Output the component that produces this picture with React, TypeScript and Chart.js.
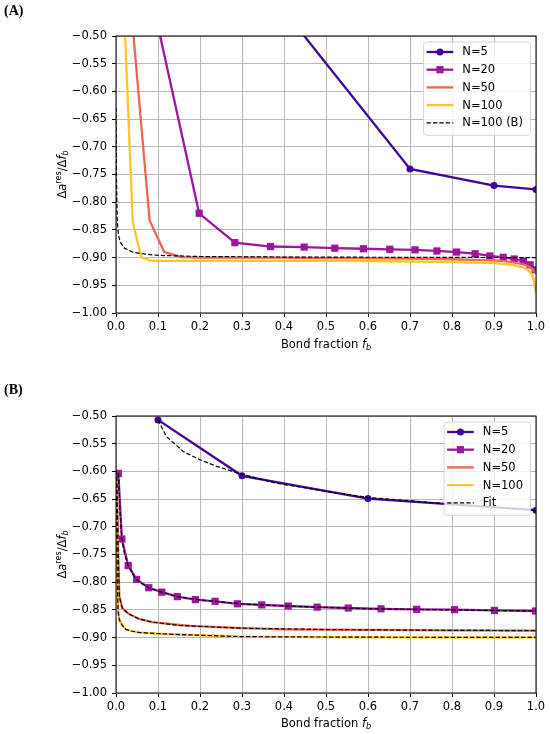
import { useEffect, useRef } from "react"
import { Chart, registerables } from "chart.js"

Chart.register(...registerables)

// axis ticks (shared by both panels)
const xTicks = [0, 0.1, 0.2, 0.3, 0.4, 0.5, 0.6, 0.7, 0.8, 0.9, 1.0]
const xTickLabels = ["0.0", "0.1", "0.2", "0.3", "0.4", "0.5", "0.6", "0.7", "0.8", "0.9", "1.0"]
const yTicks = [-1.0, -0.95, -0.9, -0.85, -0.8, -0.75, -0.7, -0.65, -0.6, -0.55, -0.5]
const yTickLabels = ["−1.00", "−0.95", "−0.90", "−0.85", "−0.80", "−0.75", "−0.70", "−0.65", "−0.60", "−0.55", "−0.50"]

// panel A
const aN5X = [0.4, 0.7, 0.9, 1.0]
const aN5Y = [-0.454, -0.74, -0.77, -0.777]
const aN20X = [0.099, 0.198, 0.283, 0.368, 0.448, 0.521, 0.589, 0.652, 0.712, 0.764, 0.811, 0.855, 0.89, 0.922, 0.948, 0.97, 0.986, 0.998]
const aN20Y = [-0.479, -0.82, -0.873, -0.88, -0.881, -0.883, -0.884, -0.885, -0.886, -0.888, -0.89, -0.893, -0.897, -0.8995, -0.9025, -0.907, -0.913, -0.922]
const aN50X = [0.04, 0.08, 0.115, 0.156, 0.2, 0.3, 0.4, 0.5, 0.6, 0.7, 0.8, 0.85, 0.9, 0.93, 0.95, 0.97, 0.98, 0.99, 0.995, 1.0]
const aN50Y = [-0.485, -0.833, -0.89, -0.899, -0.9, -0.9, -0.9, -0.901, -0.901, -0.902, -0.903, -0.904, -0.905, -0.907, -0.909, -0.912, -0.915, -0.92, -0.924, -0.928]
const aN100X = [0.02, 0.04, 0.06, 0.08, 0.1, 0.2, 0.3, 0.5, 0.7, 0.8, 0.85, 0.9, 0.93, 0.95, 0.97, 0.98, 0.99, 0.995, 1.0]
const aN100Y = [-0.47, -0.837, -0.899, -0.905, -0.906, -0.906, -0.906, -0.906, -0.907, -0.908, -0.909, -0.91, -0.912, -0.914, -0.918, -0.922, -0.93, -0.94, -0.964]
const aN100BX = [0, 0.001, 0.003, 0.006, 0.01, 0.02, 0.04, 0.06, 0.1, 0.2, 0.4, 0.7, 1.0]
const aN100BY = [-0.63, -0.75, -0.835, -0.86, -0.872, -0.883, -0.89, -0.893, -0.896, -0.898, -0.899, -0.8995, -0.9]

// panel B
const bN5X = [0.1, 0.3, 0.6, 1.0]
const bN5Y = [-0.507, -0.608, -0.649, -0.67]
const bN20X = [0.0056, 0.014, 0.029, 0.049, 0.078, 0.109, 0.146, 0.189, 0.236, 0.289, 0.347, 0.41, 0.479, 0.553, 0.631, 0.716, 0.806, 0.901, 0.999]
const bN20Y = [-0.6035, -0.722, -0.77, -0.795, -0.81, -0.818, -0.826, -0.8315, -0.8345, -0.839, -0.841, -0.843, -0.845, -0.8466, -0.848, -0.849, -0.8496, -0.851, -0.852]
const bN50X = [0.002, 0.005, 0.008, 0.015, 0.03, 0.054, 0.086, 0.11, 0.176, 0.3, 0.4, 0.6, 0.8, 1.0]
const bN50Y = [-0.61, -0.74, -0.826, -0.847, -0.857, -0.866, -0.872, -0.874, -0.879, -0.883, -0.885, -0.886, -0.887, -0.8875]
const bN100X = [0.001, 0.003, 0.005, 0.008, 0.015, 0.023, 0.035, 0.054, 0.08, 0.11, 0.18, 0.3, 0.5, 0.7, 1.0]
const bN100Y = [-0.61, -0.8, -0.851, -0.868, -0.878, -0.885, -0.888, -0.8905, -0.892, -0.8935, -0.895, -0.8983, -0.899, -0.8995, -0.8996]
const bFit5X = [0.1, 0.12, 0.16, 0.2, 0.24, 0.3, 0.38, 0.5, 0.6, 0.78, 1.0]
const bFit5Y = [-0.507, -0.537, -0.564, -0.579, -0.591, -0.605, -0.621, -0.636, -0.647, -0.658, -0.67]
const bFit20X = [0.0056, 0.01, 0.014, 0.02, 0.029, 0.04, 0.049, 0.06, 0.078, 0.1, 0.146, 0.2, 0.3, 0.4, 0.6, 0.8, 1.0]
const bFit20Y = [-0.6035, -0.68, -0.722, -0.748, -0.77, -0.786, -0.795, -0.802, -0.81, -0.816, -0.826, -0.832, -0.839, -0.843, -0.848, -0.85, -0.852]
const bFit50X = [0.002, 0.005, 0.008, 0.015, 0.03, 0.054, 0.086, 0.15, 0.3, 0.5, 0.7, 1.0]
const bFit50Y = [-0.61, -0.74, -0.826, -0.847, -0.857, -0.866, -0.872, -0.878, -0.883, -0.8855, -0.8865, -0.8875]
const bFit100X = [0.001, 0.003, 0.005, 0.008, 0.015, 0.023, 0.035, 0.054, 0.08, 0.15, 0.3, 0.6, 1.0]
const bFit100Y = [-0.61, -0.8, -0.851, -0.868, -0.878, -0.885, -0.888, -0.8905, -0.892, -0.8945, -0.8983, -0.8993, -0.8996]

const C5 = "#40049c"
const C20 = "#9c179e"
const C50 = "#ec6650"
const C100 = "#fdc527"
const FS = 11.5
const FONT = "'DejaVu Sans', sans-serif"

type Series = {
  label: string
  xs: number[]
  ys: number[]
  color: string
  width: number
  dash?: number[]
  marker?: "circle" | "rect"
  legend?: boolean
}

type Seg = { t: string; italic?: boolean; scale?: number; dy?: number }

function drawRich(ctx: CanvasRenderingContext2D, segs: Seg[], cx: number, y: number) {
  const fontOf = (s: Seg) => `${s.italic ? "italic " : ""}${FS * (s.scale ?? 1)}px ${FONT}`
  let total = 0
  const widths = segs.map((s) => {
    ctx.font = fontOf(s)
    const w = ctx.measureText(s.t).width
    total += w
    return w
  })
  let x = cx - total / 2
  ctx.textAlign = "left"
  ctx.textBaseline = "alphabetic"
  segs.forEach((s, i) => {
    ctx.font = fontOf(s)
    ctx.fillText(s.t, x, y + (s.dy ?? 0))
    x += widths[i]
  })
}

const yTitle: Seg[] = [
  { t: "Δ" },
  { t: "a", italic: true },
  { t: "res", scale: 0.7, dy: -4.6 },
  { t: "/Δ" },
  { t: "f", italic: true },
  { t: "b", italic: true, scale: 0.7, dy: 2 },
]
const xTitle: Seg[] = [
  { t: "Bond fraction " },
  { t: "f", italic: true },
  { t: "b", italic: true, scale: 0.7, dy: 2 },
]

function Panel(props: {
  tag: string
  height: number
  padTop: number
  xAxisH: number
  tagY: number
  xTitleY: number
  series: Series[]
}) {
  const ref = useRef<HTMLCanvasElement>(null)

  useEffect(() => {
    if (!ref.current) return
    const { series } = props

    const deco = {
      id: "deco",
      afterDatasetsDraw(chart: Chart) {
        const { ctx, chartArea: a } = chart
        ctx.save()
        // full frame
        ctx.strokeStyle = "#000"
        ctx.lineWidth = 1
        ctx.setLineDash([])
        ctx.strokeRect(a.left, a.top, a.right - a.left, a.bottom - a.top)

        // legend
        const entries = series.filter((s) => s.legend)
        ctx.font = `${FS}px ${FONT}`
        const tw = Math.max(...entries.map((e) => ctx.measureText(e.label).width))
        const rowH = 17.7
        const w = 3 + 26.7 + 9 + tw + 7.5
        const h = 10 + (entries.length - 1) * rowH + 12.5
        const left = a.right - 5.5 - w
        const top = a.top + 6
        ctx.beginPath()
        ctx.roundRect(left, top, w, h, 3)
        ctx.fillStyle = "rgba(255,255,255,0.8)"
        ctx.fill()
        ctx.strokeStyle = "rgba(204,204,204,0.8)"
        ctx.lineWidth = 1
        ctx.stroke()
        entries.forEach((e, i) => {
          const y = top + 10 + i * rowH
          const x0 = left + 3
          const x1 = x0 + 26.7
          ctx.strokeStyle = e.color
          ctx.lineWidth = e.width
          ctx.setLineDash(e.dash ?? [])
          ctx.beginPath()
          ctx.moveTo(x0, y)
          ctx.lineTo(x1, y)
          ctx.stroke()
          ctx.setLineDash([])
          ctx.fillStyle = e.color
          const mx = (x0 + x1) / 2
          if (e.marker === "circle") {
            ctx.beginPath()
            ctx.arc(mx, y, 3.5, 0, Math.PI * 2)
            ctx.fill()
          } else if (e.marker === "rect") {
            ctx.fillRect(mx - 3.6, y - 3.6, 7.2, 7.2)
          }
          ctx.fillStyle = "#000"
          ctx.font = `${FS}px ${FONT}`
          ctx.textAlign = "left"
          ctx.textBaseline = "middle"
          ctx.fillText(e.label, x1 + 9, y + 0.5)
        })
        ctx.restore()
      },
      afterDraw(chart: Chart) {
        const { ctx, chartArea: a } = chart
        ctx.save()
        ctx.fillStyle = "#000"
        drawRich(ctx, xTitle, (a.left + a.right) / 2, props.xTitleY)
        ctx.translate(65.5, (a.top + a.bottom) / 2)
        ctx.rotate(-Math.PI / 2)
        drawRich(ctx, yTitle, 0, 0)
        ctx.restore()
        ctx.save()
        ctx.fillStyle = "#000"
        ctx.font = "bold 14px 'Liberation Serif', serif"
        ctx.textAlign = "left"
        ctx.textBaseline = "alphabetic"
        ctx.fillText(props.tag, 4, props.tagY)
        ctx.restore()
      },
    }

    const n = series.length
    const chart = new Chart(ref.current, {
      type: "line",
      data: {
        datasets: series.map((s, i) => ({
          label: s.label,
          data: s.xs.map((x, k) => ({ x, y: s.ys[k] })),
          borderColor: s.color,
          backgroundColor: s.color,
          borderWidth: s.width,
          borderDash: s.dash ?? [],
          pointStyle: s.marker ?? "circle",
          pointRadius: s.marker === "rect" ? 5.1 : s.marker === "circle" ? 3.5 : 0,
          pointHoverRadius: 0,
          pointBorderWidth: 0,
          tension: 0,
          fill: false,
          clip: 0,
          order: n - i,
        })),
      },
      options: {
        animation: false,
        responsive: true,
        maintainAspectRatio: false,
        events: [],
        layout: { padding: { top: props.padTop, right: 14, left: 0, bottom: 0 } },
        plugins: { legend: { display: false }, tooltip: { enabled: false } },
        scales: {
          x: {
            type: "linear",
            min: 0,
            max: 1,
            afterBuildTicks: (s: any) => {
              s.ticks = xTicks.map((v) => ({ value: v }))
            },
            afterFit: (s: any) => {
              s.height = props.xAxisH
            },
            grid: { color: "#b8b8b8", lineWidth: 1, tickColor: "#000", tickLength: 4 },
            border: { display: false },
            ticks: {
              color: "#000",
              font: { family: FONT, size: FS },
              padding: 3.5,
              maxRotation: 0,
              callback: (v: any) => xTickLabels[xTicks.findIndex((t) => Math.abs(t - v) < 1e-6)],
            },
          },
          y: {
            type: "linear",
            min: -1,
            max: -0.5,
            afterBuildTicks: (s: any) => {
              s.ticks = yTicks.map((v) => ({ value: v }))
            },
            afterFit: (s: any) => {
              s.width = 116
            },
            grid: { color: "#b8b8b8", lineWidth: 1, tickColor: "#000", tickLength: 4 },
            border: { display: false },
            ticks: {
              color: "#000",
              font: { family: FONT, size: FS },
              padding: 5,
              callback: (v: any) => yTickLabels[yTicks.findIndex((t) => Math.abs(t - v) < 1e-6)],
            },
          },
        },
      },
      plugins: [deco],
    } as any)

    return () => chart.destroy()
  }, [])

  return (
    <div style={{ position: "relative", width: 550, height: props.height }}>
      <canvas ref={ref} />
    </div>
  )
}

const dashB = [4.3, 2.1]

const seriesA: Series[] = [
  { label: "N=5", xs: aN5X, ys: aN5Y, color: C5, width: 2.3, marker: "circle", legend: true },
  { label: "N=20", xs: aN20X, ys: aN20Y, color: C20, width: 2.3, marker: "rect", legend: true },
  { label: "N=50", xs: aN50X, ys: aN50Y, color: C50, width: 2.3, legend: true },
  { label: "N=100", xs: aN100X, ys: aN100Y, color: C100, width: 2.3, legend: true },
  { label: "N=100 (B)", xs: aN100BX, ys: aN100BY, color: "#000", width: 1.2, dash: dashB, legend: true },
]

const seriesB: Series[] = [
  { label: "N=5", xs: bN5X, ys: bN5Y, color: C5, width: 2.3, marker: "circle", legend: true },
  { label: "N=20", xs: bN20X, ys: bN20Y, color: C20, width: 2.3, marker: "rect", legend: true },
  { label: "N=50", xs: bN50X, ys: bN50Y, color: C50, width: 2.3, legend: true },
  { label: "N=100", xs: bN100X, ys: bN100Y, color: C100, width: 2.3, legend: true },
  { label: "Fit", xs: bFit5X, ys: bFit5Y, color: "#000", width: 1.2, dash: dashB, legend: true },
  { label: "Fit", xs: bFit20X, ys: bFit20Y, color: "#000", width: 1.2, dash: dashB },
  { label: "Fit", xs: bFit50X, ys: bFit50Y, color: "#000", width: 1.2, dash: dashB },
  { label: "Fit", xs: bFit100X, ys: bFit100Y, color: "#000", width: 1.2, dash: dashB },
]

export default function App() {
  return (
    <div style={{ position: "absolute", left: 0, top: 0, width: 550, height: 734, background: "#fff" }}>
      <Panel tag="(A)" height={360} padTop={36} xAxisH={47} tagY={14.5} xTitleY={348} series={seriesA} />
      <Panel tag="(B)" height={374} padTop={56} xAxisH={41} tagY={34} xTitleY={366.5} series={seriesB} />
    </div>
  )
}
